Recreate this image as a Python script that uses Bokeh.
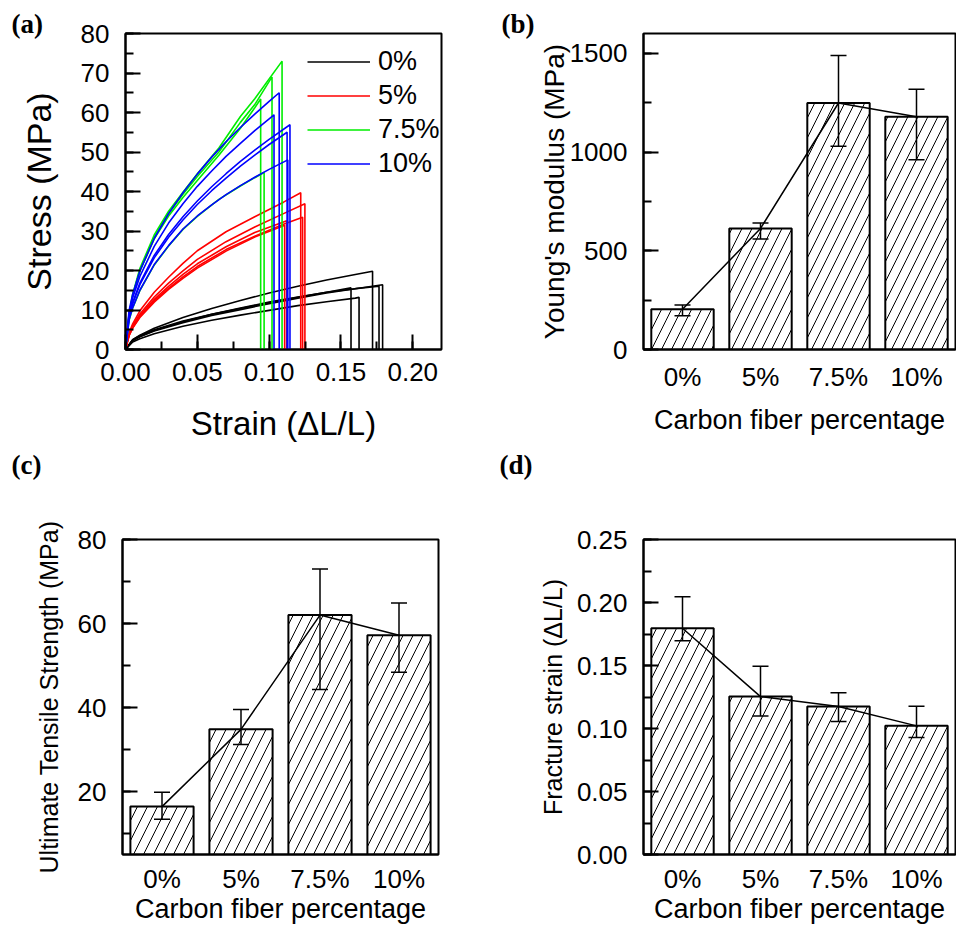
from bokeh.plotting import figure
from bokeh.models import (ColumnDataSource, Whisker, TeeHead, Label, Legend, LegendItem,
                          SingleIntervalTicker, NumeralTickFormatter, Range1d, FactorRange)
from bokeh.layouts import column, row
from bokeh.embed import file_html
from bokeh.resources import INLINE

SANS = "Liberation Sans"
SERIF = "Liberation Serif"

# ---------------- data: (a) stress-strain curves ----------------
black_strain = [0, 0.005, 0.01, 0.02, 0.04, 0.06, 0.08, 0.10, 0.12, 0.14, 0.16]
black_stress = [
    [0, 2.5, 3.6, 5.4, 8.1, 10.4, 12.4, 14.3, 16.0, 17.6, 19.0],
    [0, 2.5, 3.5, 5.0, 7.2, 8.9, 10.5, 12.0, 13.3, 14.5, 15.4],
    [0, 2.2, 3.2, 4.7, 6.8, 8.6, 10.1, 11.6, 13.0, 14.3, 15.4],
    [0, 2.3, 3.3, 4.8, 7.0, 8.9, 10.4, 11.8, 13.2, 14.5],
    [0, 1.9, 2.7, 4.0, 5.9, 7.4, 8.7, 9.9, 11.1, 12.1, 13.0],
]
black_break_strain = [0.172, 0.1765, 0.179, 0.157, 0.1626]
black_break_stress = [19.8, 16.0, 16.4, 15.6, 13.2]

red_strain = [0, 0.0025, 0.005, 0.01, 0.02, 0.03, 0.04, 0.05, 0.07, 0.09, 0.11]
red_stress = [
    [0, 4.2, 6.5, 9.8, 14.5, 18.3, 21.8, 25.0, 29.8, 33.6, 37.3],
    [0, 3.9, 6.0, 9.0, 13.3, 16.8, 19.9, 22.8, 27.3, 31.0, 34.4],
    [0, 3.6, 5.5, 8.3, 12.3, 15.5, 18.4, 21.0, 25.3, 28.7, 31.7],
    [0, 3.7, 5.7, 8.6, 12.7, 16.0, 19.0, 21.7, 26.0, 29.6, 32.3],
    [0, 3.5, 5.4, 8.1, 12.0, 15.2, 18.0, 20.6, 24.9, 28.5, 31.3],
]
red_break_strain = [0.122, 0.1249, 0.1233, 0.1122, 0.1108]
red_break_stress = [39.7, 36.9, 33.5, 32.6, 31.5]

green_strain = [0, 0.0025, 0.005, 0.01, 0.02, 0.03, 0.04, 0.05, 0.065, 0.08, 0.09]
green_stress = [
    [0, 9.0, 14.0, 20.5, 29.0, 35.0, 39.8, 44.5, 51.0, 59.0, 63.5],
    [0, 8.8, 13.7, 20.0, 28.4, 34.4, 39.3, 43.8, 50.0, 57.5, 62.0],
    [0, 8.6, 13.5, 19.8, 28.0, 33.8, 38.5, 42.8, 49.2, 56.0, 61.2],
    [0, 7.4, 10.5, 14.9, 21.4, 26.2, 30.4, 33.7, 38.0, 41.4, 43.5],
]
green_break_strain = [0.109, 0.102, 0.0941, 0.0965]
green_break_stress = [73.0, 69.0, 63.4, 44.8]

blue_strain = [0, 0.0025, 0.005, 0.01, 0.02, 0.03, 0.04, 0.05, 0.06, 0.07, 0.08, 0.09, 0.10]
blue_stress = [
    [0, 9.9, 14.0, 19.9, 28.1, 34.4, 39.7, 44.4, 48.7, 52.6, 56.2, 59.6, 62.8],
    [0, 9.2, 13.1, 18.5, 26.1, 32.0, 36.9, 41.3, 45.2, 48.9, 52.2, 55.4, 58.4],
    [0, 8.4, 11.9, 16.8, 23.8, 29.1, 33.6, 37.6, 41.2, 44.5, 47.6, 50.5, 53.2],
    [0, 8.2, 11.6, 16.4, 23.2, 28.4, 32.8, 36.7, 40.2, 43.4, 46.4, 49.2, 51.9],
    [0, 7.5, 10.6, 15.0, 21.5, 26.3, 30.5, 33.8, 36.6, 39.2, 41.5, 43.6, 45.6],
]
blue_break_strain = [0.107, 0.1034, 0.1145, 0.1125, 0.113]
blue_break_stress = [65.0, 59.4, 56.9, 55.0, 48.0]

legend_labels = ["0%", "5%", "7.5%", "10%"]
curve_colors = ["#000000", "#ff0000", "#00ee00", "#0000ff"]

# ---------------- data: bar panels ----------------
cats = ["0%", "5%", "7.5%", "10%"]
modulus_mean = [204, 613, 1248, 1179]
modulus_upper = [225, 640, 1488, 1318]
modulus_lower = [171, 559, 1029, 961]

uts_mean = [16.4, 34.8, 62.0, 57.2]
uts_upper = [19.8, 39.5, 73.0, 64.9]
uts_lower = [13.4, 31.2, 44.3, 48.4]

fracture_mean = [0.1796, 0.1253, 0.1174, 0.1021]
fracture_upper = [0.2046, 0.1495, 0.1284, 0.1176]
fracture_lower = [0.1696, 0.1100, 0.1055, 0.0928]


def base_fig(w, h, left, right, top, bottom, x_range, y_range):
    p = figure(width=w, height=h, x_range=x_range, y_range=y_range,
               output_backend="svg", toolbar_location=None,
               min_border_left=left, min_border_right=right,
               min_border_top=top, min_border_bottom=bottom)
    p.outline_line_color = "black"
    p.outline_line_width = 2
    p.outline_line_alpha = 1
    p.xgrid.visible = False
    p.ygrid.visible = False
    p.background_fill_color = "white"
    p.border_fill_color = "white"
    return p


def style_axis(ax, tick_font, label_font, standoff, label_standoff, major_in=15, minor_in=8):
    ax.axis_line_width = 2
    ax.axis_line_color = "black"
    ax.major_tick_in = major_in
    ax.major_tick_out = 0
    ax.minor_tick_in = minor_in
    ax.minor_tick_out = 0
    ax.major_tick_line_width = 2
    ax.minor_tick_line_width = 2
    ax.major_tick_line_color = "black"
    ax.minor_tick_line_color = "black"
    ax.major_label_text_font = SANS
    ax.major_label_text_font_size = tick_font
    ax.major_label_text_color = "black"
    ax.axis_label_text_font = SANS
    ax.axis_label_text_font_size = label_font
    ax.axis_label_text_font_style = "normal"
    ax.axis_label_text_color = "black"
    ax.major_label_standoff = standoff
    ax.axis_label_standoff = label_standoff


def panel_label(p, text, x, y):
    # side-panel annotation (not clipped to the frame), canvas coordinates
    lab = Label(x=x, y=y, x_units="canvas", y_units="canvas", text=text,
                text_font=SERIF, text_font_style="bold", text_font_size="27px",
                text_baseline="top", text_align="left", text_color="black")
    p.add_layout(lab, "above")


H1 = 449
H2 = 477
W1 = 470
W2 = 486

# ---------------- (a) ----------------
pa = base_fig(W1, H1, 125, W1 - 441, 33, H1 - 349, Range1d(0, 0.22), Range1d(0, 80))
groups = [
    (black_strain, black_stress, black_break_strain, black_break_stress),
    (red_strain, red_stress, red_break_strain, red_break_stress),
    (green_strain, green_stress, green_break_strain, green_break_stress),
    (blue_strain, blue_stress, blue_break_strain, blue_break_stress),
]
items = []
for (grid, stresses, bstrain, bstress), lab, col in zip(groups, legend_labels, curve_colors):
    xs, ys = [], []
    for s, be, bs in zip(stresses, bstrain, bstress):
        xs.append(list(grid[:len(s)]) + [be, be])
        ys.append(list(s) + [bs, 0])
    r = pa.multi_line(xs=xs, ys=ys, line_color=col, line_width=1.6)
    items.append(LegendItem(label=lab, renderers=[r]))

leg = Legend(items=items, location=(182, 170), label_text_font=SANS, label_text_font_size="27px",
             label_text_color="black",
             glyph_width=63, glyph_height=31, label_height=31, spacing=3, padding=0, margin=0,
             label_standoff=8, border_line_alpha=0, background_fill_alpha=0)
pa.add_layout(leg, "center")

pa.xaxis.ticker = SingleIntervalTicker(interval=0.05, num_minor_ticks=2)
pa.xaxis.formatter = NumeralTickFormatter(format="0.00")
pa.yaxis.ticker = SingleIntervalTicker(interval=10, num_minor_ticks=2)
pa.xaxis.axis_label = "Strain (\u0394L/L)"
pa.yaxis.axis_label = "Stress (MPa)"
style_axis(pa.xaxis[0], "26px", "33px", 13, 21)
style_axis(pa.yaxis[0], "26px", "34px", 16, 20)
panel_label(pa, "(a)", 11, 8)


# ---------------- bar panels ----------------
def bar_panel(w, h, left, right, top, bottom, yrange, means, upper, lower, interval, fmt,
              ylabel, ylabel_font, ylab_standoff, cat_standoff, xlab_standoff):
    p = base_fig(w, h, left, right, top, bottom, FactorRange(*cats), yrange)
    p.vbar(x=cats, top=means, bottom=yrange.start, width=0.8, fill_color="white",
           line_color="black", line_width=2, hatch_pattern="/", hatch_color="black",
           hatch_scale=20, hatch_weight=1)
    p.line(x=cats, y=means, line_color="black", line_width=1.5)
    src = ColumnDataSource(dict(x=cats, upper=upper, lower=lower))
    p.add_layout(Whisker(source=src, base="x", upper="upper", lower="lower", level="overlay",
                         line_color="black", line_width=1.5,
                         upper_head=TeeHead(size=16, line_width=1.5, line_color="black"),
                         lower_head=TeeHead(size=16, line_width=1.5, line_color="black")))
    p.yaxis.ticker = SingleIntervalTicker(interval=interval, num_minor_ticks=2)
    if fmt:
        p.yaxis.formatter = NumeralTickFormatter(format=fmt)
    p.yaxis.axis_label = ylabel
    p.xaxis.axis_label = "Carbon fiber percentage"
    style_axis(p.yaxis[0], "26px", ylabel_font, 16, ylab_standoff)
    style_axis(p.xaxis[0], "26px", "27px", cat_standoff, xlab_standoff, major_in=0, minor_in=0)
    return p


pb = bar_panel(W2, H1, 173, 1, 33, H1 - 349, Range1d(0, 1600), modulus_mean, modulus_upper,
               modulus_lower, 500, None, "Young's modulus (MPa)", "28px", -3, 12, 10)
panel_label(pb, "(b)", 31, 8)

pc = bar_panel(W1, H2, 122, W1 - 438, 539 - H1, H1 + H2 - 855, Range1d(5, 80), uts_mean,
               uts_upper, uts_lower, 20, None, "Ultimate Tensile Strength (MPa)", "25px", 12, 9, -3)
panel_label(pc, "(c)", 11, 0)

pd = bar_panel(W2, H2, 173, 1, 539 - H1, H1 + H2 - 855, Range1d(0, 0.25), fracture_mean,
               fracture_upper, fracture_lower, 0.05, "0.00", "Fracture strain (\u0394L/L)", "25px",
               7, 9, -3)
panel_label(pd, "(d)", 29, 0)

layout = column(row(pa, pb), row(pc, pd))
open("out.html", "w").write(file_html(layout, INLINE))
